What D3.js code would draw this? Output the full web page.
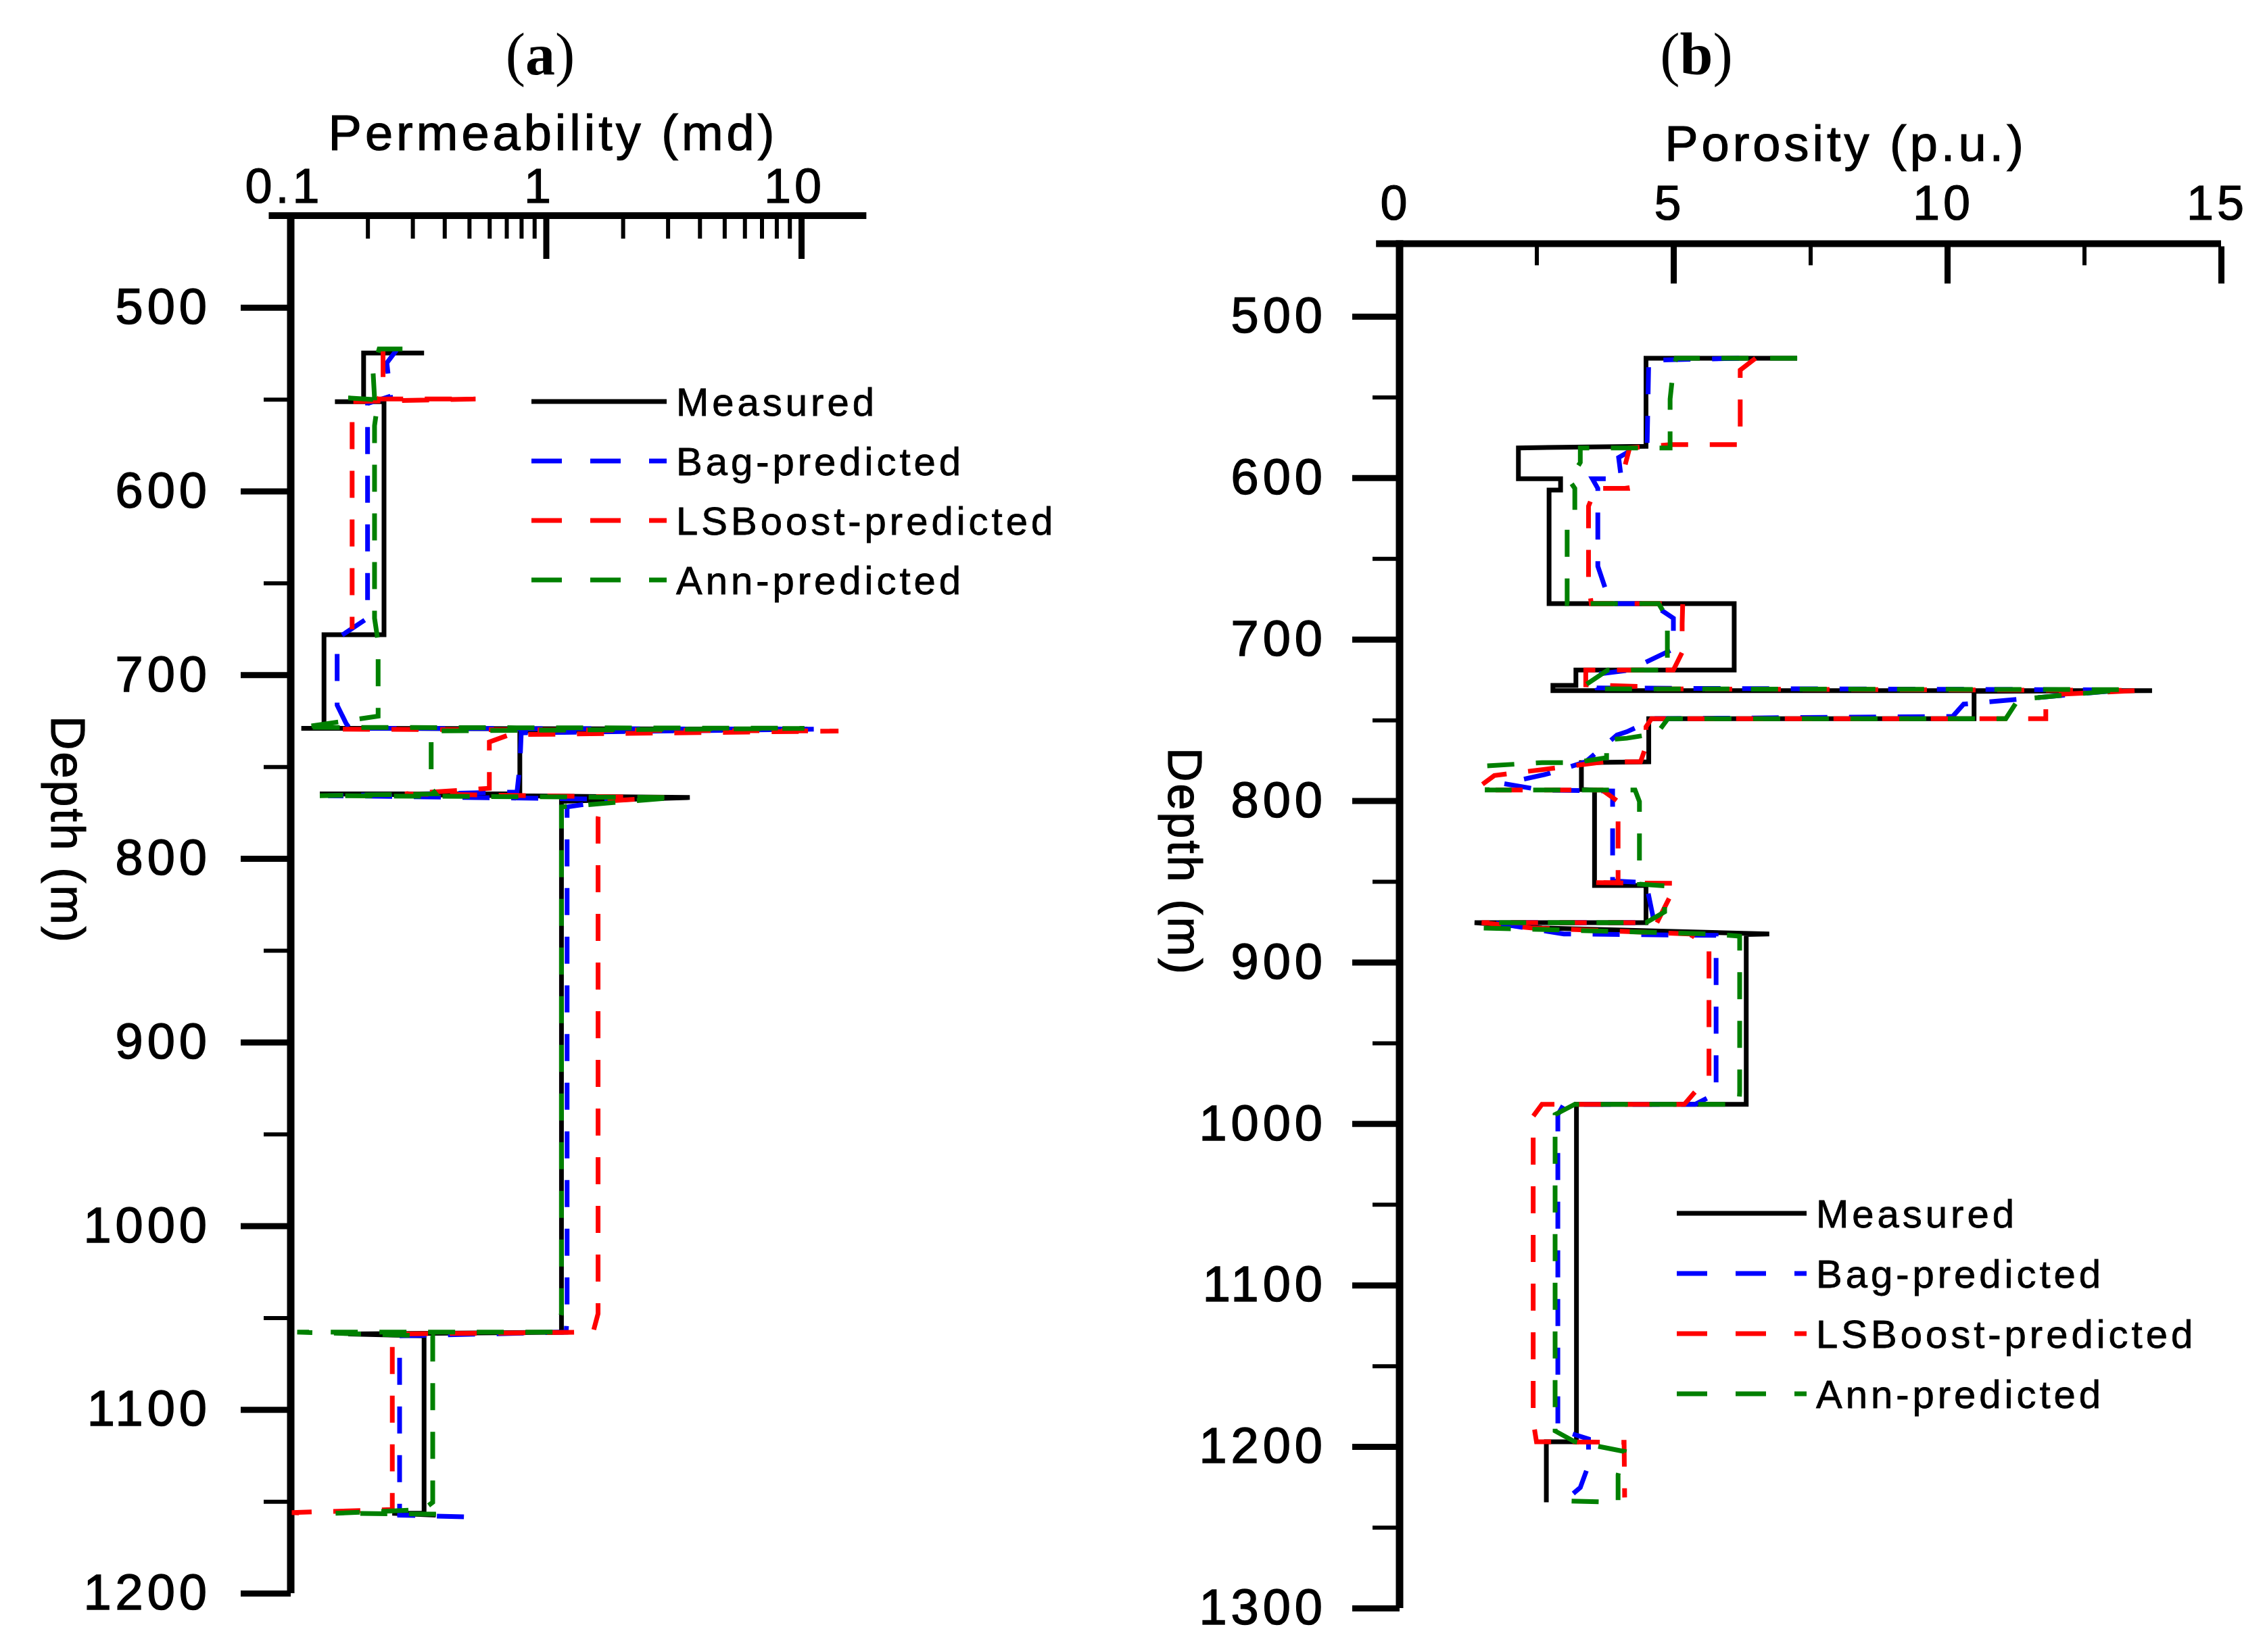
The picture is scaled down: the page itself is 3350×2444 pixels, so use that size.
<!DOCTYPE html>
<html>
<head>
<meta charset="utf-8">
<script src="https://cdn.jsdelivr.net/npm/d3@7"></script>
<style>
body{margin:0;background:#fff}
svg text{font-family:"Liberation Sans",Arial,sans-serif;fill:#000}
</style>
</head>
<body>
<svg id="chart" width="3350" height="2444"></svg>
<script>
// series names + colours
var seriesNames = ["Measured","Bag-predicted","LSBoost-predicted","Ann-predicted"]
var seriesColors = ["#000000","#0000ff","#ff0000","#008000"]

// (a) permeability, vertices as [depth m, permeability md]; null = no data
var permMeasured = [[524.8,0.333],[524.8,0.193],[551.3,0.193],[551.3,0.149],[551.3,0.232],[678.2,0.232],[678.2,0.135],
  [729.1,0.135],[729.1,0.11],[729.6,10.6],[730.6,0.79],[764.8,0.79],[764.8,0.13],[766.8,3.66],[768.9,1.15],[1057.9,1.15],
  [1058.9,0.168],[1059.9,0.333],[1156.5,0.333],[1156.5,0.25],[1157.5,0.37]]
var permBag = [[523.1,0.26],[530.2,0.238],[548.3,0.246],[552.3,0.2],[669.2,0.2],[680.2,0.152],[716.5,0.152],[726.6,0.165],
  [729.1,0.17],[729.6,11.2],[731.6,0.8],[749.7,0.79],[763.8,0.77],[765.8,0.14],[767.8,1.95],[771.9,1.21],[1047.8,1.21],
  [1057.9,1.2],[1059.9,0.267],[1157.5,0.267],[1158.5,0.52]]
var permLS = [[523.1,0.23],[546.3,0.23],[549.8,0.22],[549.8,0.53],[551.3,0.174],[675.2,0.174],null,
  [729.6,0.16],[730.6,14.0],[732.6,0.72],[736.6,0.6],[761.8,0.6],[764.8,0.28],[766.8,2.9],[768.9,1.65],[777.9,1.6],[1047.8,1.6],
  [1057.9,1.53],[1058.9,0.25],[1154.5,0.25],[1156.1,0.101],[1156.5,0.115]]
var permAnn = [[522.6,0.274],[522.6,0.222],[534.2,0.21],[549.3,0.213],[549.3,0.168],[550.3,0.22],[564.4,0.213],[669.2,0.213],
  [682.2,0.22],[722.5,0.22],[728.6,0.11],[729.1,10.3],[730.6,0.355],[761.8,0.355],[764.8,0.37],[765.8,0.13],[766.8,3.2],
  [771.9,1.15],[1047.8,1.15],[1057.9,1.1],[1057.9,0.106],[1059.9,0.36],[1150.5,0.36],[1154.5,0.33],[1156.5,0.15],[1157.0,0.38]]

// (b) porosity, vertices as [depth m, porosity p.u.]
var poroMeasured = [[526.0,7.26],[526.0,4.5],[580.5,4.5],[581.5,2.17],[600.6,2.17],[600.6,2.94],[607.6,2.94],[607.6,2.73],
  [677.9,2.73],[677.9,6.11],[719.1,6.11],[719.1,3.22],[728.6,3.22],[728.6,2.8],[731.8,2.8],[731.8,13.74],[732.2,10.49],
  [749.2,10.49],[749.2,4.55],[775.9,4.55],[776.4,3.32],[793.1,3.32],[793.4,3.56],[852.5,3.56],[852.5,4.5],[875.5,4.5],
  [875.5,1.37],[878.8,2.6],[882.5,6.75],[882.9,6.33],[988.0,6.33],[988.0,3.23],[1197.0,3.23],[1197.0,2.68],[1234.5,2.68]]
var poroBag = [[526.0,6.2],[527.2,4.55],[579.5,4.52],[581.5,4.3],[587.5,4.0],[600.6,4.05],[600.6,3.52],[606.6,3.62],[654.8,3.62],
  [677.9,3.85],[677.9,4.6],[687.0,5.0],[706.0,5.0],[719.1,4.2],[722.1,3.5],[730.2,3.6],[731.4,13.2],[740.2,10.3],[747.8,10.1],
  [749.2,4.67],[757.3,4.15],[759.3,3.97],[775.9,3.4],[783.4,2.7],[789.4,1.9],[793.4,2.6],[794.0,3.89],[849.7,3.89],[850.7,4.5],
  [875.5,4.65],[875.5,1.7],[882.5,3.0],[883.4,5.78],[981.3,5.78],[988.0,5.4],[988.0,3.0],[994.4,2.89],[1189.3,2.89],
  [1195.3,3.45],[1211.4,3.45],[1225.4,3.3],[1232.5,3.05]]
var poroLS = [[526.0,6.5],[533.3,6.22],[579.5,6.22],[579.5,4.95],[581.5,4.2],[594.5,4.1],[606.6,4.16],[606.6,3.58],[617.6,3.45],
  [664.9,3.45],[677.9,3.5],[677.9,5.17],[690.0,5.16],[708.1,5.16],[719.1,5.0],[719.1,3.4],[728.2,3.4],[729.2,4.3],[730.7,4.3],
  [731.7,13.5],[734.2,12.0],[740.7,11.8],[749.2,11.8],[749.2,4.6],[754.3,4.5],[766.3,4.5],[775.9,4.4],[775.9,3.75],
  [784.4,1.73],[791.4,1.45],[793.4,1.6],[793.4,3.7],[800.5,3.99],[850.7,3.99],[850.7,3.46],[851.2,5.06],[875.5,4.7],
  [875.5,1.5],[878.8,2.4],[882.5,5.3],[890.9,5.65],[970.3,5.65],[988.0,5.2],[988.0,2.6],[995.4,2.44],[1184.2,2.44],
  [1197.0,2.5],[1197.3,4.1],[1231.5,4.11]]
var poroAnn = [[526.0,7.26],[526.0,5.05],[532.3,5.0],[551.3,4.94],[581.5,4.94],[581.5,3.3],[590.5,3.3],[601.6,3.1],[606.6,3.2],
  [620.7,3.2],[630.7,3.06],[677.9,3.06],[677.9,4.73],[687.0,4.89],[719.1,4.89],[719.1,3.8],[728.2,3.4],[730.7,3.5],[731.2,13.25],
  [737.2,11.3],[749.2,11.07],[749.2,4.9],[758.3,4.7],[761.3,4.15],[762.3,3.78],[773.4,3.78],[776.4,3.2],[776.4,2.6],[778.4,1.6],
  [793.4,1.6],[793.4,4.3],[800.5,4.38],[851.7,4.38],[852.7,4.84],[868.8,4.84],[875.5,4.5],[875.5,1.6],[878.8,1.5],[882.5,5.7],
  [883.9,6.21],[980.3,6.21],[988.0,6.2],[988.0,3.2],[994.4,2.84],[1175.2,2.84],[1190.3,2.84],[1197.0,3.2],[1203.0,4.1],
  [1217.4,3.99],[1234.5,3.99],[1233.5,2.9]]

// axes values
var permMajor = [0.1,1,10]
var permMinor = [0.2,0.3,0.4,0.5,0.6,0.7,0.8,0.9,2,3,4,5,6,7,8,9]
var permAxisExtent = [0.082,18]
var depthMajorA = [500,600,700,800,900,1000,1100,1200]
var depthMinorA = [550,650,750,850,950,1050,1150]
var poroMajor = [0,5,10,15]
var poroMinor = [2.5,7.5,12.5]
var poroAxisExtent = [-0.43,15]
var depthMajorB = [500,600,700,800,900,1000,1100,1200,1300]
var depthMinorB = [550,650,750,850,950,1050,1150,1250]

var svg = d3.select("#chart")
svg.append("rect").attr("width",3350).attr("height",2444).attr("fill","#fff")
var defs = svg.append("defs")

function panel(opt){
    var g = svg.append("g")
    var x = opt.x, y = opt.y
    var x0 = x(opt.xMin)  // y-axis position
    var yTop = y(opt.depthDomain[0]), yBot = y(opt.depthDomain[1])

    // minor + major x ticks (pointing down)
    g.append("g").attr("transform","translate(0,"+(yTop+4)+")")
        .call(d3.axisBottom(x).tickValues(opt.xMinor).tickSize(opt.xMinorLen).tickFormat(""))
        .call(function(s){s.select(".domain").remove();s.selectAll("line").attr("stroke-width",6)})
    g.append("g").attr("transform","translate(0,"+(yTop+4)+")")
        .call(d3.axisBottom(x).tickValues(opt.xMajorTicks).tickSize(opt.xMajorLen).tickFormat(""))
        .call(function(s){s.select(".domain").remove();s.selectAll("line").attr("stroke-width",9)})
    // x tick labels above axis
    g.selectAll(".xl").data(opt.xLabels).enter().append("text")
        .attr("x",function(d){return x(d)+opt.xLabelDx})
        .attr("y",opt.xLabelY)
        .attr("text-anchor","middle")
        .attr("font-size",72).attr("letter-spacing",5)
        .attr("stroke","#000").attr("stroke-width",1.2)
        .text(function(d){return d})

    // y ticks
    g.append("g").attr("transform","translate("+x0+",0)")
        .call(d3.axisLeft(y).tickValues(opt.yMinor).tickSize(opt.yMinorLen).tickFormat(""))
        .call(function(s){s.select(".domain").remove();s.selectAll("line").attr("stroke-width",6)})
    g.append("g").attr("transform","translate("+x0+",0)")
        .call(d3.axisLeft(y).tickValues(opt.yMajor).tickSize(opt.yMajorLen).tickPadding(opt.yPad).tickFormat(d3.format("d")))
        .call(function(s){
            s.select(".domain").remove()
            s.selectAll("line").attr("stroke-width",9)
            s.selectAll("text").attr("font-size",74).attr("letter-spacing",6).attr("fill","#000")
                .attr("stroke","#000").attr("stroke-width",1.5)
                .style("font-family","'Liberation Sans',Arial,sans-serif")
        })

    // axis lines
    g.append("line").attr("x1",x(opt.xExtent[0])).attr("x2",x(opt.xExtent[1]))
        .attr("y1",yTop).attr("y2",yTop).attr("stroke","#000").attr("stroke-width",10)
    g.append("line").attr("x1",x0).attr("x2",x0)
        .attr("y1",yTop-5).attr("y2",yBot).attr("stroke","#000").attr("stroke-width",11)

    // series, clipped to the plot area like the original
    defs.append("clipPath").attr("id","clip"+opt.tag).append("rect")
        .attr("x",x0).attr("y",yTop).attr("width",x(opt.xExtent[1])-x0).attr("height",yBot-yTop)
    var line = d3.line().defined(function(d){return d!=null})
        .x(function(d){return x(d[1])}).y(function(d){return y(d[0])})
    var sg = g.append("g").attr("clip-path","url(#clip"+opt.tag+")")
    opt.series.forEach(function(s,i){
        sg.append("path").datum(s).attr("d",line)
            .attr("fill","none").attr("stroke",seriesColors[i]).attr("stroke-width",7)
            .attr("stroke-linejoin","miter").attr("stroke-dasharray",i==0?null:"40,32")
    })

    // legend
    seriesNames.forEach(function(n,i){
        var ly = opt.legY + i*opt.legStep
        g.append("line").attr("x1",opt.legX).attr("x2",opt.legX+opt.legLen)
            .attr("y1",ly).attr("y2",ly).attr("stroke",seriesColors[i]).attr("stroke-width",7)
            .attr("stroke-dasharray",i==0?null:"45,42")
        g.append("text").attr("x",opt.legX+opt.legLen+14).attr("y",ly+21)
            .attr("font-size",58).attr("letter-spacing",5)
            .attr("stroke","#000").attr("stroke-width",0.8).text(n)
    })

    // titles
    g.append("text").attr("x",opt.titleX).attr("y",opt.titleY).attr("text-anchor","middle")
        .attr("font-size",74).attr("letter-spacing",5)
        .attr("stroke","#000").attr("stroke-width",1.2).text(opt.title)
    g.append("text").attr("transform","translate("+opt.depthX+","+opt.depthY+") rotate(90)")
        .attr("text-anchor","middle").attr("dominant-baseline","central")
        .attr("font-size",70).attr("letter-spacing",3)
        .attr("stroke","#000").attr("stroke-width",1.2).text("Depth (m)")
    var p = g.append("text").attr("x",opt.tagX).attr("y",110).attr("text-anchor","middle")
        .attr("font-size",88).style("font-family","'Liberation Serif','Times New Roman',serif")
    p.append("tspan").text("(")
    p.append("tspan").attr("font-weight","bold").text(opt.tag)
    p.append("tspan").text(")")
}

panel({
    x: d3.scaleLog().domain([0.1,10]).range([430,1185]), xMin:0.1,
    y: d3.scaleLinear().domain([450,1200]).range([319,2357]),
    depthDomain:[450,1200],
    xMinor: permMinor, xMinorLen:30, xMajorTicks:[1,10], xMajorLen:60,
    xLabels: permMajor, xLabelY:300, xLabelDx:-10, xExtent: permAxisExtent,
    yMajor: depthMajorA, yMinor: depthMinorA, yMajorLen:74, yMinorLen:40, yPad:44,
    series:[permMeasured,permBag,permLS,permAnn],
    legX:786, legLen:200, legY:594, legStep:88,
    title:"Permeability (md)", titleX:818, titleY:222,
    depthX:100, depthY:1228, tag:"a", tagX:799
})

panel({
    x: d3.scaleLinear().domain([0,15]).range([2070,3285]), xMin:0,
    y: d3.scaleLinear().domain([450,1300]).range([348.5,2379]),
    depthDomain:[455,1300],
    xMinor: poroMinor, xMinorLen:28, xMajorTicks:[5,10,15], xMajorLen:55,
    xLabels: poroMajor, xLabelY:325, xLabelDx:-6, xExtent: poroAxisExtent,
    yMajor: depthMajorB, yMinor: depthMinorB, yMajorLen:70, yMinorLen:40, yPad:38,
    series:[poroMeasured,poroBag,poroLS,poroAnn],
    legX:2480, legLen:192, legY:1795, legStep:89,
    title:"Porosity (p.u.)", titleX:2730, titleY:238,
    depthX:1752, depthY:1275, tag:"b", tagX:2509
})
</script>
</body>
</html>
